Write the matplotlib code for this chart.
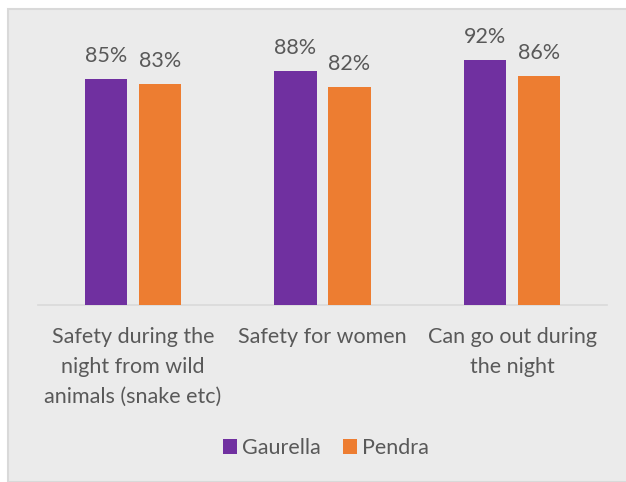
import matplotlib
matplotlib.use("Agg")
import matplotlib.pyplot as plt
from matplotlib.patches import Rectangle, Patch
import numpy as np

categories = ["Safety during the\nnight from wild\nanimals (snake etc)",
              "Safety for women",
              "Can go out during\nthe night"]
series_names = ["Gaurella", "Pendra"]
gaurella = [85, 88, 92]
pendra = [83, 82, 86]
colors = ["#7030A0", "#ED7D31"]

plt.rcParams['font.family'] = ['Lato', 'DejaVu Sans']
TXT = "#595959"
FS = 15.5

W, H = 626, 482
fig = plt.figure(figsize=(W/100, H/100), dpi=100)
fig.patch.set_facecolor("white")
# panel background
fig.patches.append(Rectangle((8/W, 0), 1 - 8/W + 0.01, 1 - 9/H, transform=fig.transFigure,
                             facecolor="#ebebeb", edgecolor="#d9d9d9", linewidth=1.5, zorder=-5))

ax = fig.add_axes([38/W, 1 - 305/H, (607-38)/W, (305-39)/H])
ax.set_facecolor("none")
x = np.arange(len(categories))
bw = 0.222
gap = 0.063
off = (bw + gap) / 2
b1 = ax.bar(x - off, gaurella, bw, color=colors[0], label=series_names[0], zorder=3)
b2 = ax.bar(x + off, pendra, bw, color=colors[1], label=series_names[1], zorder=3)
for bars, vals in ((b1, gaurella), (b2, pendra)):
    for r, v in zip(bars, vals):
        ax.annotate(f"{v}%", (r.get_x() + r.get_width()/2, v), xytext=(0, 17),
                    textcoords="offset pixels", ha="center", va="baseline",
                    fontsize=FS, color=TXT)

ax.set_xlim(-0.5, len(categories) - 0.5)
ax.set_ylim(0, 100)
ax.set_yticks([])
ax.set_xticks(x)
ax.set_xticklabels(categories, fontsize=FS, color=TXT, linespacing=1.62)
ax.tick_params(axis='x', length=0, pad=16)
for s in ("top", "left", "right"):
    ax.spines[s].set_visible(False)
ax.spines["bottom"].set_color("#d9d9d9")
ax.spines["bottom"].set_linewidth(1.2)

handles = [Patch(facecolor=c, edgecolor='none') for c in colors]
leg = fig.legend(handles, series_names, loc="center", bbox_to_anchor=(326/W, 1 - 448/H),
                 ncol=2, frameon=False, fontsize=FS, handlelength=0.65, handleheight=0.65,
                 handletextpad=0.25, columnspacing=1.0, labelcolor=TXT)

fig.savefig("out.png", dpi=100)
